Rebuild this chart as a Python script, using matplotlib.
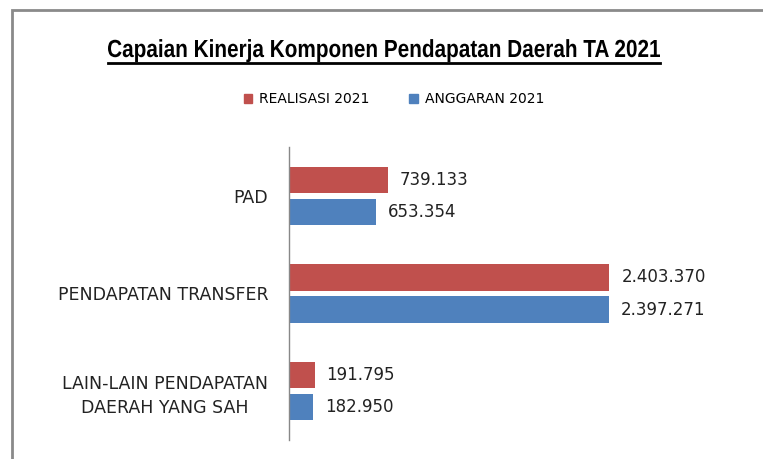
import matplotlib
matplotlib.use('Agg')
import matplotlib.pyplot as plt
import numpy as np
from matplotlib.patches import Rectangle, Patch, PathPatch
from matplotlib.lines import Line2D
from matplotlib.textpath import TextPath
from matplotlib.font_manager import FontProperties
from matplotlib.transforms import Affine2D, IdentityTransform

# Data (values in thousands, dot as thousands separator)
categories = ['PAD', 'PENDAPATAN TRANSFER', 'LAIN-LAIN PENDAPATAN\nDAERAH YANG SAH']
realisasi = [739133, 2403370, 191795]
anggaran = [653354, 2397271, 182950]
series_names = ['REALISASI 2021', 'ANGGARAN 2021']
title = 'Capaian Kinerja Komponen Pendapatan Daerah TA 2021'

RED = '#C0504D'
BLUE = '#4F81BD'
W, H = 763, 459


def fmt(v):
    return '{:,}'.format(v).replace(',', '.')


fig = plt.figure(figsize=(W / 100, H / 100), dpi=100)

# outer chart border (runs off the right and bottom edge)
fig.patches.append(Rectangle((12 / W, -0.1), 1.2, (H - 10) / H + 0.1,
                             transform=fig.transFigure, fill=False,
                             edgecolor='#8a8a8a', lw=2))

ax = fig.add_axes([289 / W, (H - 440) / H, 400 / W, 293 / H])
y = np.arange(len(categories))
off = 0.164
hgt = 0.27
b1 = ax.barh(y - off, realisasi, height=hgt, color=RED)
b2 = ax.barh(y + off, anggaran, height=hgt, color=BLUE)

for bars, vals in ((b1, realisasi), (b2, anggaran)):
    for b, v in zip(bars, vals):
        ax.text(b.get_width() + 90000, b.get_y() + b.get_height() / 2, fmt(v),
                va='center', ha='left', fontsize=12, color='#222222')

ax.set_xlim(0, 3000000)
ax.set_ylim(2.5, -0.5)
ax.set_yticks(y)
ax.set_yticklabels(categories, fontsize=12.5, color='#222222',
                   multialignment='center', linespacing=1.45)
ax.tick_params(axis='y', length=0, pad=15)
ax.set_xticks([])
for s in ('top', 'right', 'bottom'):
    ax.spines[s].set_visible(False)
ax.spines['left'].set_color('#888888')
ax.spines['left'].set_linewidth(1)

# title: bold text squeezed to a narrow face, then underlined
fp = FontProperties(family='Liberation Sans', weight='bold')
tp = TextPath((0, 0), title, size=20, prop=fp)
cap = TextPath((0, 0), 'H', size=20, prop=fp).get_extents().height
ext = tp.get_extents()
x_left, x_right, base, cap_px = 108, 660, 57, 17
sx = (x_right - x_left) / ext.width
sy = cap_px / cap
tr = Affine2D().translate(-ext.x0, 0).scale(sx, sy).translate(x_left, H - base)
fig.patches.append(PathPatch(tr.transform_path(tp), transform=IdentityTransform(),
                             facecolor='black', edgecolor='none'))
yl = 1 - 63 / H
fig.lines.append(Line2D([x_left / W, x_right / W], [yl, yl],
                        transform=fig.transFigure, color='black', lw=2))

handles = [Patch(color=RED), Patch(color=BLUE)]
fig.legend(handles, series_names, loc='center', bbox_to_anchor=(394 / W, 1 - 99 / H),
           ncol=2, frameon=False, fontsize=10, handlelength=0.6, handleheight=0.6,
           handletextpad=0.5, columnspacing=2.85)

fig.savefig('out.png', dpi=100)
